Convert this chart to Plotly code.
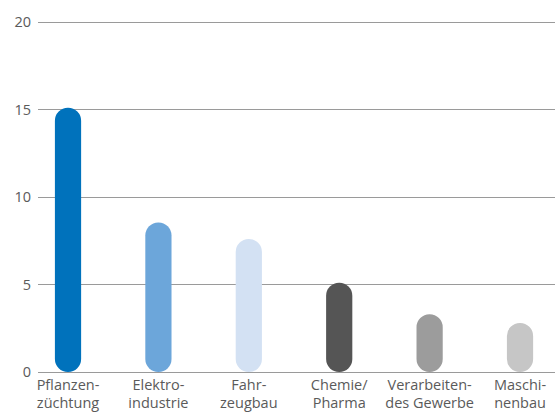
import plotly.graph_objects as go

categories = ["Pflanzen-<br>züchtung", "Elektro-<br>industrie", "Fahr-<br>zeugbau",
              "Chemie/<br>Pharma", "Verarbeiten-<br>des Gewerbe", "Maschi-<br>nenbau"]
values = [15.1, 8.55, 7.6, 5.1, 3.3, 2.8]
colors = ["#0072BC", "#6CA6DA", "#D3E1F3", "#555555", "#9C9C9C", "#C6C6C6"]
y_ticks = [0, 5, 10, 15, 20]

xs = list(range(len(values)))

# layout geometry
Y_MAX = 20.06
PLOT_H = 417 - 22 - 45
PX_PER_UNIT = PLOT_H / Y_MAX
BAR_W = 0.29
X_RANGE = [-0.332, 5.387]
EPS = 0.001

fig = go.Figure()
# pill-shaped bars (a non-zero base makes plotly round both ends)
fig.add_trace(go.Bar(x=xs, y=[v - EPS for v in values], base=[EPS] * len(values),
                     width=BAR_W,
                     marker=dict(color=colors, cornerradius="50%", line=dict(width=0)),
                     hoverinfo="skip"))

fig.update_layout(
    width=555, height=417,
    margin=dict(l=38, r=0, t=22 - (Y_MAX - 20) * PX_PER_UNIT, b=45),
    barmode="overlay",
    showlegend=False,
    plot_bgcolor="white", paper_bgcolor="white",
    font=dict(family="Open Sans", size=14.5, color="#5A5A5A"),
    xaxis=dict(range=X_RANGE, tickvals=xs, ticktext=categories,
               showgrid=False, zeroline=False, showline=False, ticks="",
               ticklabelstandoff=2, fixedrange=True),
    yaxis=dict(range=[0, Y_MAX], tickvals=y_ticks, showgrid=True, gridcolor="#9A9A9A",
               gridwidth=1, zeroline=True, zerolinecolor="#9A9A9A", zerolinewidth=1,
               showline=False, ticks="", ticklabelstandoff=6),
)

fig.write_html("out.html")
